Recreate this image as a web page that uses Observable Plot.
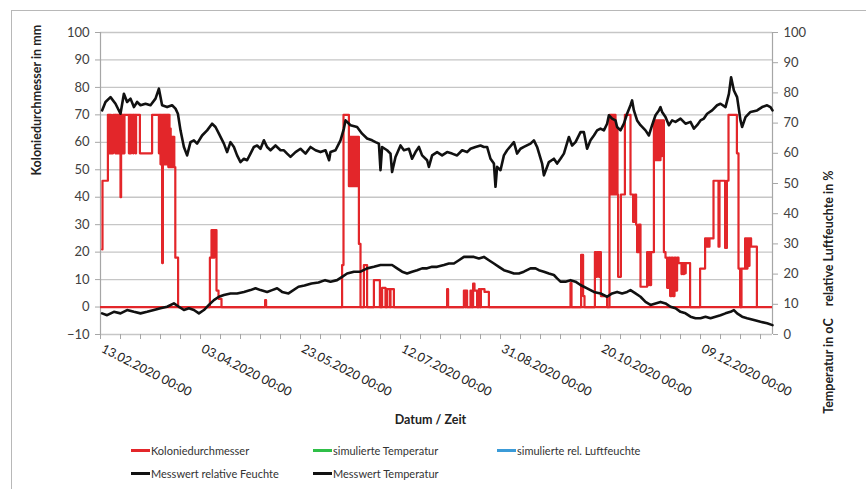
<!DOCTYPE html>
<html>
<head>
<meta charset="utf-8">
<script src="https://cdn.jsdelivr.net/npm/d3@7"></script>
<script src="https://cdn.jsdelivr.net/npm/@observablehq/plot@0.6"></script>
<style>
  html, body { margin: 0; padding: 0; background: #fff; }
  #wrap { position: relative; width: 866px; height: 489px; overflow: hidden; font-family: Lato, "Liberation Sans", sans-serif; }
  #frame { position: absolute; left: 11px; top: 10px; right: -5px; bottom: -5px; border-left: 1px solid #b8b8b8; border-top: 1px solid #b8b8b8; }
  #chart { position: absolute; left: 0; top: 0; }
  .leg { position: absolute; font-size: 11px; color: #333; display: flex; align-items: center; white-space: nowrap; }
  .sw { display: inline-block; width: 19px; height: 3px; margin-right: 1px; }
</style>
</head>
<body>
<div id="wrap">
  <div id="frame"></div>
  <div id="chart"></div>
</div>
<script>
// ---- Data (x = days since 13.02.2020 00:00) ----
const startDate = "2020-02-13T00:00:00Z";
const xDaysShown = 336;

// Messwert relative Feuchte [day, %] (right axis)
const feuchte = [
  [0.8,74.2],[2.5,77.0],[5,78.6],[7.5,76.4],[10,73.1],[11.7,79.7],[13.3,77.0],[15,78.1],[16.7,75.3],[18.3,77.0],
  [20,75.9],[22.5,76.4],[25,75.9],[27.5,78.1],[29.2,81.4],[30.8,75.9],[33.3,75.3],[35.8,75.9],[37.5,74.8],[38.7,73.1],
  [40,67.6],[41.7,62.1],[43.3,59.3],[45,63.7],[46.7,64.3],[48.3,63.2],[50.8,65.9],[53.3,67.6],[55.8,69.8],[57.5,68.7],
  [59.2,66.5],[61.7,63.2],[63.3,60.4],[65,63.7],[66.7,62.1],[68.3,59.3],[70,57.1],[71.7,58.2],[73.3,57.7],[75,59.9],
  [76.7,62.1],[78.3,62.6],[80,61.5],[81.7,64.3],[83.3,62.1],[85,61.0],[87.5,62.6],[90,61.0],[91.7,61.0],[93.3,59.9],
  [95,58.8],[97.5,60.4],[100,61.5],[102.5,59.9],[105,62.1],[107.5,61.0],[110,60.4],[112.5,61.0],[114.3,57.7],[115,60.4],
  [117.5,61.0],[120,64.3],[121.7,68.2],[122.5,70.9],[125,69.3],[128.3,68.7],[130.8,66.5],[133.3,64.9],[135.8,64.3],[137.5,63.7],
  [139.2,63.2],[140,54.4],[140.8,62.1],[143.3,61.0],[145,59.9],[145.8,53.8],[147.5,58.8],[150,62.6],[151.7,61.0],[154.2,61.5],
  [155.8,58.2],[157.5,60.4],[159.2,62.1],[160.8,59.3],[163.3,57.7],[164.2,55.5],[165.8,59.3],[168.3,60.4],[170.8,59.3],[173.3,60.4],
  [175.8,59.9],[178.3,59.3],[180.8,61.0],[183.3,60.4],[185,61.5],[187.5,62.1],[190,62.6],[191.7,62.1],[193.3,62.1],[195,58.2],
  [196.7,56.6],[197.5,48.9],[198.3,55.5],[200,54.4],[201.7,59.3],[203.3,61.0],[206.7,63.7],[208.3,59.9],[210,61.5],[211.7,62.1],
  [215,63.2],[216.7,64.3],[218.3,62.1],[220.8,56.6],[221.7,52.7],[224.2,57.1],[226.7,58.2],[228.3,56.6],[230,58.2],[231.7,59.9],
  [234.2,65.4],[235.8,62.6],[237.5,63.7],[240,67.0],[241.7,67.0],[243.3,61.5],[245,64.3],[246.7,65.9],[248.3,67.6],[250,68.2],
  [251.7,67.6],[253.3,69.8],[254.2,72.6],[255.8,71.5],[257.5,70.9],[258.3,68.7],[260,67.6],[261.7,69.8],[263.3,73.1],[265,75.9],
  [265.8,77.5],[266.7,74.2],[268.3,70.9],[270,69.3],[272.5,67.6],[274.2,65.9],[275.8,69.3],[277.5,72.6],[279.2,74.2],[280,75.3],
  [280.8,73.7],[282.5,72.0],[284.2,69.3],[285.8,70.9],[287.5,70.4],[290,71.5],[292.5,69.8],[295,70.4],[296.7,68.2],[298.3,69.3],
  [300,70.9],[301.7,71.5],[303.3,73.1],[305.8,74.2],[308.3,75.9],[310,76.4],[312.5,75.3],[314.2,79.7],[315.3,85.2],[316.7,80.8],
  [318.3,78.6],[320,70.9],[320.8,68.7],[322.5,72.0],[325,73.7],[328.3,74.2],[330.8,75.3],[333.3,75.9],[335,75.3],[336,74.2]
];

// Messwert Temperatur [day, °C] (right axis)
const temperatur = [
  [0.8,7.0],[3.3,6.4],[6.7,7.5],[10,7.0],[13.3,8.1],[16.7,7.5],[20,7.0],[23.3,7.5],[26.7,8.1],[30,8.7],
  [33.3,9.2],[36.7,10.3],[39.2,9.2],[41.7,8.1],[44.2,8.7],[46.7,8.1],[49.2,7.0],[51.7,8.1],[54.2,9.8],[56.7,11.4],
  [59.2,12.5],[61.7,13.1],[65,13.6],[68.3,13.6],[71.7,14.1],[75,14.7],[77.5,15.3],[80,14.7],[83.3,14.1],[85.8,14.7],
  [88.3,15.3],[90.8,14.1],[94,13.6],[99,15.8],[102,16.2],[105.5,16.9],[109,17.2],[112.3,18.0],[115,17.5],[118.3,18.0],
  [120.8,19.1],[123.3,20.2],[126.7,20.8],[130,20.8],[133.3,21.9],[136.7,22.4],[140,23.0],[143.3,23.0],[145.8,23.0],[148.3,21.9],
  [150.8,20.8],[153.3,20.2],[155.8,20.8],[158.3,21.3],[160.8,21.9],[163.3,21.9],[165.8,22.4],[168.3,22.4],[171.7,23.0],[174.2,23.5],
  [176.7,23.5],[179.2,24.6],[181.7,25.7],[184.2,25.7],[186.7,25.7],[189.2,25.2],[191.7,25.7],[194.2,24.6],[196.7,23.5],[199.2,22.4],
  [201.7,21.3],[204.2,20.8],[206.7,20.2],[209.2,20.2],[211.7,20.8],[215,21.9],[217.5,21.9],[219.2,21.3],[221.7,20.8],[224.2,20.2],
  [226.7,19.7],[228.3,18.6],[230,17.5],[232.5,17.5],[235,18.0],[237.5,17.5],[240,16.4],[243.3,15.3],[246.7,14.1],[250,13.6],
  [253.3,12.5],[255.8,13.6],[258.3,14.1],[260.8,13.6],[263.3,14.1],[265,14.7],[267.5,13.6],[270,12.5],[272.5,10.8],[275,9.8],
  [277.5,10.3],[280,10.8],[282.5,10.3],[285,9.2],[287.5,8.7],[290,7.5],[292.5,7.0],[295,5.9],[297.5,5.4],[300,5.4],
  [302.5,5.9],[305,5.4],[307.5,5.9],[310,6.4],[312.5,7.0],[315,7.5],[316.7,8.1],[318.3,7.0],[320.8,5.9],[323.3,5.4],
  [326.7,4.8],[330,4.2],[333.3,3.7],[336,3.1]
];

// Koloniedurchmesser [day, mm] (left axis, step values)
const kolonie = [
  [0.8,21],[1.0,46],[3.7,70],[4.2,56],[4.5,70],[5.3,56],[6.3,70],[7.4,56],[7.7,70],[8.2,56],[8.5,70],[9.2,56],[9.5,70],
  [10.0,40],[10.3,70],[10.8,56],[11.1,70],[11.7,56],[12.0,70],[14.2,56],[14.5,70],[15.0,56],[15.3,70],[16.3,56],[16.6,70],
  [17.5,56],[17.8,70],[19.7,56],[25.8,70],[29.2,56],[29.5,70],[30.0,52],[30.3,70],[30.8,16],[31.2,70],[31.5,52],[31.8,70],
  [32.1,52],[32.4,70],[32.7,52],[33.0,70],[33.3,52],[33.6,70],[33.9,51],[34.2,70],[34.5,51],[34.8,65],[35.1,51],[35.4,62],
  [35.7,51],[36.0,62],[36.3,51],[36.6,62],[36.9,51],[37.4,18],[38.8,0],
  [54.7,18],[55.5,28],[55.9,18],[56.2,28],[56.6,18],[56.9,28],[57.3,20],[57.6,28],[58.0,6],[59.0,3],[60.5,0],
  [82.3,2.5],[82.8,0],
  [120.8,15.3],[121.5,70],[124.2,44],[124.6,62],[125.0,44],[125.4,62],[125.8,44],[126.2,62],[126.6,44],[127.0,62],[127.4,44],
  [127.8,62],[128.2,44],[128.6,62],[129.2,23],[130.0,0],[131.7,15.3],[133.3,0],[136.7,9.8],[139.7,0],[140.8,7],[142.5,0],
  [143.3,6.5],[144.7,0],[145.0,6.5],[146.7,0],
  [173.3,6.5],[173.8,0],[181.7,6],[182.5,0],[182.8,6],[183.3,0],[185.0,6],[185.5,0],[186.3,8.5],[187.0,6],[188.3,0],
  [189.2,6.5],[189.7,0],[190.2,6.5],[192.0,5.5],[194.2,0],
  [235.0,8.7],[235.5,0],[240.3,19],[241.3,4],[242.0,0],[247.2,20],[247.8,11],[248.3,20],[249.2,11],[249.5,20],[250.2,4],[253.3,0],
  [254.5,70],[255.2,41],[255.5,70],[255.8,41],[256.2,70],[256.6,41],[257.0,70],[257.5,41],[258.0,65],[258.5,41],[258.8,11],
  [260.2,41],[262.2,70],[265.0,41],[266.3,31],[267.2,41],[267.8,30],[268.3,20],[269.2,30],[270.0,7.4],[273.3,20],[273.8,8],
  [274.3,20],[274.8,8],[275.3,20],[276.7,68],[277.2,53.5],[277.6,68],[278.0,53.5],[278.4,68],[278.8,53.5],[279.2,68],[279.6,53.5],
  [280.0,68],[280.4,55],[280.8,68],[281.7,20],[282.5,18],[283.3,7],[284.2,18],[284.8,4],[285.5,18],[286.2,4],[287.0,18],
  [287.6,6],[288.3,18],[289.0,16],[290.5,12],[290.8,16],[291.5,12],[291.8,16],[292.3,12.3],[292.6,16],[294.8,0],
  [299.8,14],[302.3,25],[303.0,22],[303.5,25],[304.0,22],[304.5,25],[306.5,46],[309.0,22],[309.5,46],[312.3,21.5],[313.2,46],
  [314.0,70],[318.2,56],[319.0,14],[319.8,0],[320.5,14],[322.3,25],[323.0,14],[323.5,25],[324.0,15],[324.5,25],[325.3,22],[328.2,0]
];

const yTicksLeft = [-10, 0, 10, 20, 30, 40, 50, 60, 70, 80, 90, 100];
const yTicksRight = [0, 10, 20, 30, 40, 50, 60, 70, 80, 90, 100];
const xTickLabels = ["13.02.2020 00:00", "03.04.2020 00:00", "23.05.2020 00:00", "12.07.2020 00:00",
                     "31.08.2020 00:00", "20.10.2020 00:00", "09.12.2020 00:00"];
const xMinorStepDays = 10;

const legendLabels = ["Koloniedurchmesser", "simulierte Temperatur", "simulierte rel. Luftfeuchte",
                      "Messwert relative Feuchte", "Messwert Temperatur"];
const legendColors = ["#e3262a", "#2fbf48", "#3b9bd8", "#111111", "#111111"];

const titleLeft = "Koloniedurchmesser in mm";
const titleRight = "Temperatur in oC\u00a0\u00a0\u00a0\u00a0relative Luftfeuchte in %";
const titleX = "Datum / Zeit";

// ---- helpers ----
const t0 = new Date(startDate).getTime();
const toDate = d => new Date(t0 + d * 864e5);
const parseLabel = d3.utcParse("%d.%m.%Y %H:%M");
const rightToLeft = v => v * 1.1 - 10;   // right axis 0..100 spans left axis -10..100
const leftToRight = v => (v + 10) / 1.1;
const minorTicks = d3.range(0, xDaysShown + 1, xMinorStepDays).map(toDate);

const red = legendColors[0];
const axisGray = "#a6a6a6";
const gridGray = "#c6c6c6";
const labelColor = "#404040";

const chart = Plot.plot({
  width: 866,
  height: 432,
  marginLeft: 100,
  marginRight: 94,
  marginTop: 32,
  marginBottom: 98,
  x: {type: "utc", domain: [toDate(0), toDate(xDaysShown)], axis: null},
  y: {domain: [-10, 100], axis: null},
  style: {fontFamily: "Lato, 'Liberation Sans', sans-serif", fontSize: "12.5px", color: labelColor, background: "transparent", overflow: "visible"},
  marks: [
    Plot.ruleY(yTicksLeft, {stroke: gridGray, strokeWidth: 1.3}),
    Plot.ruleX([toDate(0)], {stroke: axisGray, strokeWidth: 1.2}),
    Plot.ruleX([toDate(xDaysShown)], {stroke: axisGray, strokeWidth: 1.2}),
    Plot.axisY(yTicksLeft, {anchor: "left", tickSize: 5, tickPadding: 6, stroke: axisGray, color: labelColor, fontSize: 13, label: null}),
    Plot.axisY(yTicksRight.map(rightToLeft), {anchor: "right", tickSize: 5, tickPadding: 6, stroke: axisGray, color: labelColor, fontSize: 13,
      tickFormat: d => String(Math.round(leftToRight(d))), label: null}),
    Plot.axisX(minorTicks, {anchor: "bottom", tickSize: 5, tickFormat: () => "", stroke: axisGray, label: null}),
    Plot.text(xTickLabels, {x: d => parseLabel(d), text: d => d, frameAnchor: "bottom", rotate: 27, textAnchor: "start",
      dy: 17, dx: 0, fontSize: 12.5, fill: "#222"}),
    // series
    Plot.ruleY([0], {stroke: red, strokeWidth: 2.2}),
    Plot.line(kolonie, {x: d => toDate(d[0]), y: d => d[1], curve: "step-after", stroke: red, strokeWidth: 2.2}),
    Plot.line(feuchte, {x: d => toDate(d[0]), y: d => rightToLeft(d[1]), stroke: "#111", strokeWidth: 2.6, strokeLinejoin: "round"}),
    Plot.line(temperatur, {x: d => toDate(d[0]), y: d => rightToLeft(d[1]), stroke: "#111", strokeWidth: 2.6, strokeLinejoin: "round"}),
    // titles
    Plot.text([titleLeft], {frameAnchor: "left", rotate: -90, dx: -64, dy: -8, fontWeight: "bold", fontSize: 12.5, fill: "#222"}),
    Plot.text([titleRight], {frameAnchor: "right", rotate: -90, dx: 56, dy: -13, fontWeight: "bold", fontSize: 12.5, fill: "#222"}),
    Plot.text([titleX], {frameAnchor: "bottom", dy: 89, dx: -6, fontWeight: "bold", fontSize: 12.5, fill: "#222"})
  ]
});
document.getElementById("chart").appendChild(chart);

// ---- legend ----
const legendPos = [[131, 450], [313, 450], [497, 450], [131, 473], [313, 473]];
const wrap = document.getElementById("wrap");
legendLabels.forEach((lab, i) => {
  const el = document.createElement("div");
  el.className = "leg";
  el.style.left = legendPos[i][0] + "px";
  el.style.top = (legendPos[i][1] - 8) + "px";
  el.style.height = "16px";
  const sw = document.createElement("span");
  sw.className = "sw";
  sw.style.background = legendColors[i];
  el.appendChild(sw);
  el.appendChild(document.createTextNode(lab));
  wrap.appendChild(el);
});
</script>
</body>
</html>
